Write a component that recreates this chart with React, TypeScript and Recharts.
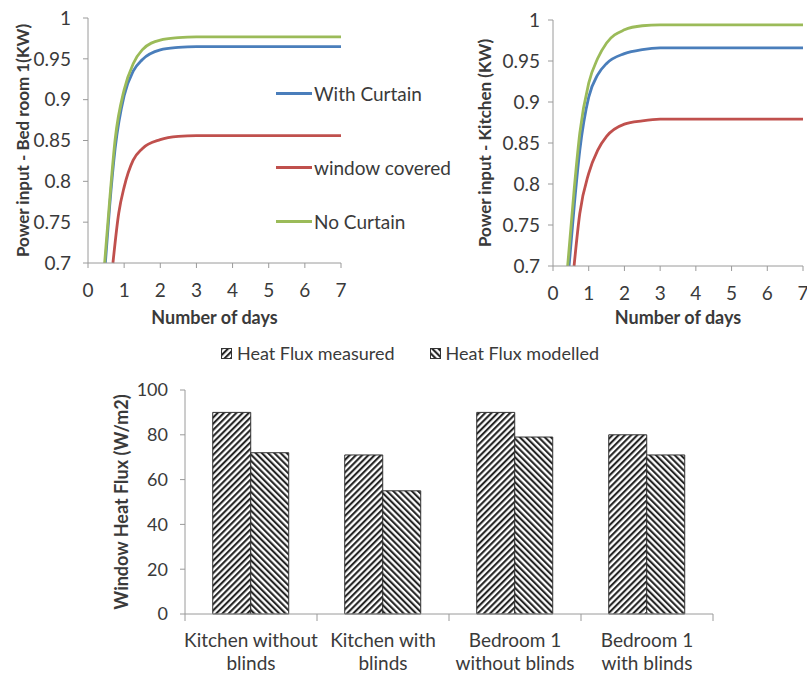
import React from 'react';
import { LineChart, Line, BarChart, Bar, XAxis, YAxis, Legend } from 'recharts';

const FONT = 'Lato, "Open Sans", sans-serif';
const INK = '#3a3a3a';
const AXIS = '#9a9a9a';

// series order: With Curtain, window covered, No Curtain
const seriesNames = ['With Curtain', 'window covered', 'No Curtain'];
const seriesColors = ['#4a7ebb', '#c0504d', '#9bbb59'];

// Bed room 1
const bedBlueDays = [0.48, 0.6, 0.75, 1, 1.25, 1.5, 2, 2.5, 3, 7];
const bedBlueKw = [0.7, 0.77, 0.84, 0.905, 0.935, 0.949, 0.961, 0.964, 0.965, 0.965];
const bedRedDays = [0.69, 0.85, 1, 1.25, 1.5, 2, 2.5, 3, 7];
const bedRedKw = [0.7, 0.761, 0.793, 0.826, 0.84, 0.851, 0.855, 0.856, 0.856];
const bedGreenDays = [0.46, 0.6, 0.75, 1, 1.25, 1.5, 2, 2.5, 3, 7];
const bedGreenKw = [0.7, 0.777, 0.851, 0.912, 0.944, 0.961, 0.973, 0.976, 0.977, 0.977];

// Kitchen
const kitBlueDays = [0.45, 0.6, 0.75, 1, 1.25, 1.5, 2, 2.5, 3, 7];
const kitBlueKw = [0.7, 0.776, 0.841, 0.906, 0.933, 0.947, 0.959, 0.964, 0.966, 0.966];
const kitRedDays = [0.59, 0.75, 1, 1.25, 1.5, 2, 2.5, 3, 7];
const kitRedKw = [0.7, 0.764, 0.813, 0.841, 0.858, 0.873, 0.877, 0.879, 0.879];
const kitGreenDays = [0.41, 0.6, 0.75, 1, 1.25, 1.5, 2, 2.5, 3, 7];
const kitGreenKw = [0.7, 0.797, 0.862, 0.923, 0.953, 0.972, 0.988, 0.993, 0.994, 0.994];

const dayTicks = [0, 1, 2, 3, 4, 5, 6, 7];
const kwTicks = [0.7, 0.75, 0.8, 0.85, 0.9, 0.95, 1];

// bar chart
const rooms = ['Kitchen without\nblinds', 'Kitchen with\nblinds', 'Bedroom 1\nwithout blinds', 'Bedroom 1\nwith blinds'];
const fluxMeasured = [90, 71, 90, 80];
const fluxModelled = [72, 55, 79, 71];
const fluxTicks = [0, 20, 40, 60, 80, 100];
const fluxNames = ['Heat Flux measured', 'Heat Flux modelled'];

const toPoints = (days: number[], kw: number[]) => days.map((day, i) => ({ day, kw: kw[i] }));

const barData = rooms.map((room, i) => ({ room, measured: fluxMeasured[i], modelled: fluxModelled[i] }));

const legendTops = [0, 74, 128];

const CurtainLegend = () => (
    <div style={{ position: 'relative', fontFamily: FONT, fontSize: 19, color: INK }}>
        {seriesNames.map((name, i) => (
            <div key={name} style={{
                position: 'absolute', top: legendTops[i], left: 0, height: 20,
                display: 'flex', alignItems: 'center', whiteSpace: 'nowrap',
            }}>
                <span style={{ display: 'inline-block', width: 36, height: 3, background: seriesColors[i], marginRight: 2 }} />
                <span>{name}</span>
            </div>
        ))}
    </div>
);

interface PowerChartProps {
    yLabel: string;
    series: { day: number; kw: number }[][];
    width: number;
    yAxisWidth: number;
    labelOffset: number;
    top: number;
    plotBottom: number;
    tickGap: number;
    showLegend?: boolean;
}

const CHART_H = 340;

const PowerChart = ({ yLabel, series, width, yAxisWidth, labelOffset, top, plotBottom, tickGap, showLegend }: PowerChartProps) => (
    <LineChart width={width} height={CHART_H} margin={{ top, right: 19, left: 0, bottom: 0 }}>
        <XAxis
            type="number" dataKey="day" domain={[0, 7]} ticks={dayTicks} height={CHART_H - plotBottom}
            tick={{ fill: INK, fontSize: 19, fontFamily: FONT }} tickSize={5} tickMargin={16}
            axisLine={{ stroke: AXIS }} tickLine={{ stroke: AXIS }}
            label={{ value: 'Number of days', position: 'insideBottom', offset: 16, fill: INK, fontSize: 18, fontWeight: 700, fontFamily: FONT }}
        />
        <YAxis
            type="number" domain={[0.7, 1]} ticks={kwTicks} width={yAxisWidth}
            tick={{ fill: INK, fontSize: 19, fontFamily: FONT }} tickSize={5} tickMargin={tickGap}
            axisLine={{ stroke: AXIS }} tickLine={{ stroke: AXIS }}
            label={{ value: yLabel, angle: -90, position: 'insideLeft', offset: labelOffset, fill: INK, fontSize: 17, fontWeight: 700, fontFamily: FONT, style: { textAnchor: 'middle' } }}
        />
        {showLegend && (
            <Legend
                layout="horizontal" verticalAlign="middle" align="center"
                wrapperStyle={{ left: 276, top: 83, width: 180, height: 160 }}
                content={<CurtainLegend />}
            />
        )}
        {series.map((pts, i) => (
            <Line
                key={seriesNames[i]} data={pts} dataKey="kw" name={seriesNames[i]}
                type="monotone" stroke={seriesColors[i]} strokeWidth={2.8}
                dot={false} activeDot={false} isAnimationActive={false}
            />
        ))}
    </LineChart>
);

const PatternSwatch = ({ id }: { id: string }) => (
    <svg width={11} height={11} style={{ marginRight: 5 }}>
        <rect x={0.5} y={0.5} width={10} height={10} fill={`url(#${id})`} stroke="#333" strokeWidth={1} />
    </svg>
);

const FluxLegend = () => (
    <div style={{
        display: 'flex', justifyContent: 'center', alignItems: 'center', gap: 35, paddingRight: 10,
        fontFamily: FONT, fontSize: 18, color: INK, height: 22,
    }}>
        {fluxNames.map((name, i) => (
            <div key={name} style={{ display: 'flex', alignItems: 'center', whiteSpace: 'nowrap' }}>
                <PatternSwatch id={i === 0 ? 'hatchMeasured' : 'hatchModelled'} />
                <span>{name}</span>
            </div>
        ))}
    </div>
);

const RoomTick = ({ x, y, payload, index, width, visibleTicksCount }: any) => {
    const band = width && visibleTicksCount ? width / visibleTicksCount : 132;
    const lines = String(payload.value).split('\n');
    return (
        <g>
            <line x1={x - band / 2} x2={x - band / 2} y1={y} y2={y + 7} stroke={AXIS} />
            {index === visibleTicksCount - 1 && (
                <line x1={x + band / 2} x2={x + band / 2} y1={y} y2={y + 7} stroke={AXIS} />
            )}
            <text x={x} y={y + 33} textAnchor="middle" fill={INK} fontSize={19} fontFamily={FONT}>
                {lines.map((ln, i) => (
                    <tspan key={i} x={x} dy={i === 0 ? 0 : 23}>{ln}</tspan>
                ))}
            </text>
        </g>
    );
};

const FluxChart = () => (
    <BarChart width={630} height={345} data={barData} margin={{ top: 60, right: 17, left: 0, bottom: 0 }}
        barCategoryGap="21%" barGap={0}>
        <defs>
            <pattern id="hatchMeasured" patternUnits="userSpaceOnUse" width={4.4} height={4.4} patternTransform="rotate(45)">
                <rect width={4.4} height={4.4} fill="#fff" />
                <line x1={1.1} y1={0} x2={1.1} y2={4.4} stroke="#1a1a1a" strokeWidth={2} />
            </pattern>
            <pattern id="hatchModelled" patternUnits="userSpaceOnUse" width={4.4} height={4.4} patternTransform="rotate(-45)">
                <rect width={4.4} height={4.4} fill="#fff" />
                <line x1={1.1} y1={0} x2={1.1} y2={4.4} stroke="#1a1a1a" strokeWidth={2} />
            </pattern>
        </defs>
        <XAxis dataKey="room" height={61} tickSize={0} tickMargin={0} interval={0}
            axisLine={{ stroke: AXIS }} tickLine={false} tick={<RoomTick />} />
        <YAxis domain={[0, 100]} ticks={fluxTicks} width={85}
            tick={{ fill: INK, fontSize: 18, fontFamily: FONT }} tickSize={5} tickMargin={12}
            axisLine={{ stroke: AXIS }} tickLine={{ stroke: AXIS }}
            label={{ value: 'Window Heat Flux (W/m2)', angle: -90, position: 'insideLeft', offset: 22, fill: INK, fontSize: 18, fontWeight: 700, fontFamily: FONT, style: { textAnchor: 'middle' } }}
        />
        <Legend layout="horizontal" verticalAlign="middle" align="center"
            wrapperStyle={{ left: 0, top: 12, width: 630, height: 22 }} content={<FluxLegend />} />
        <Bar dataKey="measured" name={fluxNames[0]} fill="url(#hatchMeasured)" stroke="#333" strokeWidth={1} isAnimationActive={false} />
        <Bar dataKey="modelled" name={fluxNames[1]} fill="url(#hatchModelled)" stroke="#333" strokeWidth={1} isAnimationActive={false} />
    </BarChart>
);

export default function App() {
    return (
        <div style={{
            position: 'absolute', left: 0, top: 0, width: 807, height: 675,
            overflow: 'hidden', background: '#fff', fontFamily: FONT,
        }}>
            <div style={{ position: 'absolute', left: 100, top: 330 }}>
                <FluxChart />
            </div>
            <div style={{ position: 'absolute', left: 0, top: 0 }}>
                <PowerChart
                    yLabel="Power input - Bed room 1(KW)" width={360} yAxisWidth={88} labelOffset={23}
                    top={18} plotBottom={263} tickGap={12} showLegend
                    series={[toPoints(bedBlueDays, bedBlueKw), toPoints(bedRedDays, bedRedKw), toPoints(bedGreenDays, bedGreenKw)]}
                />
            </div>
            <div style={{ position: 'absolute', left: 440, top: 0 }}>
                <PowerChart
                    yLabel="Power input - Kitchen (KW)" width={382} yAxisWidth={113} labelOffset={45}
                    top={20} plotBottom={266} tickGap={8}
                    series={[toPoints(kitBlueDays, kitBlueKw), toPoints(kitRedDays, kitRedKw), toPoints(kitGreenDays, kitGreenKw)]}
                />
            </div>
        </div>
    );
}
